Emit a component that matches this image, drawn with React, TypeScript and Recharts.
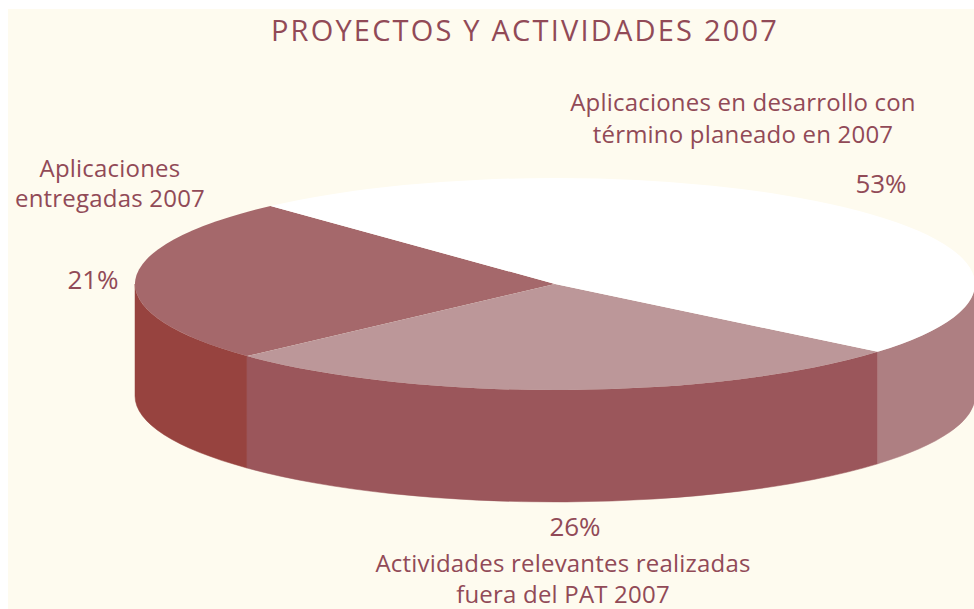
import { Pie, PieChart } from "recharts";

const sliceNames = [
  "Aplicaciones entregadas 2007",
  "Actividades relevantes realizadas fuera del PAT 2007",
  "Aplicaciones en desarrollo con término planeado en 2007",
];
const sliceValues = [21, 26, 53];
const topColors = ["#a5686b", "#bc9799", "#ffffff"];
const wallColors = ["#97433f", "#9b565b", "#ae7f82"];

const pieData = sliceNames.map((name, i) => ({
  name,
  value: sliceValues[i],
  fill: topColors[i],
  wall: wallColors[i],
}));

const TEXT_COLOR = "#914a57";
const FONT = "'Open Sans', sans-serif";

// vertical squash of the disc and height of its side wall
const SQUASH = 106 / 420;
const DEPTH = 112;

// the source picture has some perspective: far side shrunk, near side stretched
const warp = (deg: number) => deg + 12 * Math.sin(((deg - 186) * Math.PI) / 180);

function Slice3D(props: any) {
  const { cx, cy, outerRadius, startAngle, endAngle, fill, payload } = props;
  const rx = outerRadius;
  const ry = outerRadius * SQUASH;
  const pt = (deg: number, dy = 0) => {
    const r = (deg * Math.PI) / 180;
    return `${cx + rx * Math.cos(r)} ${cy - ry * Math.sin(r) + dy}`;
  };
  const a = warp(startAngle);
  const b = warp(endAngle);
  const large = b - a > 180 ? 1 : 0;
  const top = `M ${cx} ${cy} L ${pt(a)} A ${rx} ${ry} 0 ${large} 0 ${pt(b)} Z`;

  // only the part of the rim in the lower half shows a wall
  const walls: string[] = [];
  for (const k of [0, 360]) {
    const w0 = Math.max(a, 180 + k);
    const w1 = Math.min(b, 360 + k);
    if (w1 > w0) {
      walls.push(
        `M ${pt(w0)} A ${rx} ${ry} 0 0 0 ${pt(w1)} L ${pt(w1, DEPTH)} A ${rx} ${ry} 0 0 1 ${pt(w0, DEPTH)} Z`
      );
    }
  }
  const wall = payload.wall ?? props.wall;
  return (
    <g>
      {walls.map((d) => (
        <path key={d} d={d} fill={wall} stroke={wall} strokeWidth={0.5} />
      ))}
      <path d={top} fill={fill} />
    </g>
  );
}

function Caption({ x, y, text, size = 24, spacing = 0.2 }: { x: number; y: number; text: string; size?: number; spacing?: number }) {
  return (
    <text
      x={x}
      y={y}
      textAnchor="middle"
      fontFamily={FONT}
      fontSize={size}
      letterSpacing={spacing}
      fill={TEXT_COLOR}
    >
      {text}
    </text>
  );
}

export default function App() {
  return (
    <div style={{ position: "absolute", left: 0, top: 0, width: 974, height: 609, background: "#fff", overflow: "hidden" }}>
      <div style={{ position: "absolute", left: 8, top: 9, width: 966, height: 600, background: "#fefbef" }} />
      <div style={{ position: "absolute", left: 0, top: 0 }}>
        <PieChart width={974} height={609} margin={{ top: 0, right: 0, bottom: 0, left: 0 }}>
          <Pie
            data={pieData}
            dataKey="value"
            nameKey="name"
            cx={555}
            cy={284}
            innerRadius={0}
            outerRadius={420}
            startAngle={141.1}
            endAngle={501.1}
            stroke="none"
            shape={Slice3D}
            isAnimationActive={false}
          />
          <Caption x={525} y={41} size={29} spacing={2.2} text="PROYECTOS Y ACTIVIDADES 2007" />
          <Caption x={743} y={111} text="Aplicaciones en desarrollo con" />
          <Caption x={743} y={143} text="término planeado en 2007" />
          <Caption x={881} y={193} size={26} spacing={0} text="53%" />
          <Caption x={110} y={177} text="Aplicaciones" />
          <Caption x={110} y={207} text="entregadas 2007" />
          <Caption x={93} y={289} size={26} spacing={0} text="21%" />
          <Caption x={575} y={536} size={26} spacing={0} text="26%" />
          <Caption x={563} y={572} text="Actividades relevantes realizadas" />
          <Caption x={563} y={603} text="fuera del PAT 2007" />
        </PieChart>
      </div>
    </div>
  );
}
